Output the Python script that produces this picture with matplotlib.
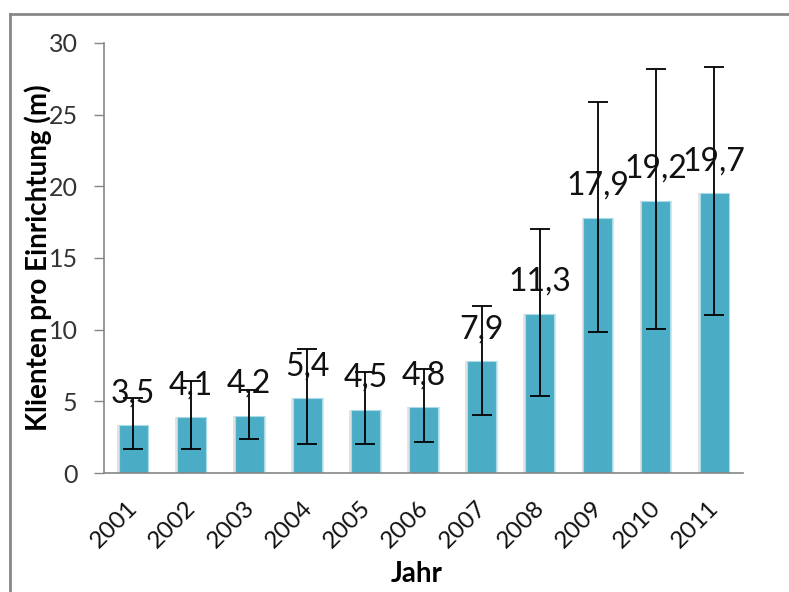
import matplotlib
matplotlib.use("Agg")
import matplotlib.pyplot as plt
import matplotlib.transforms as mtransforms
from matplotlib.lines import Line2D
import numpy as np

plt.rcParams['font.family'] = ['Lato', 'DejaVu Sans']

# Daten
jahre = ["2001", "2002", "2003", "2004", "2005", "2006",
         "2007", "2008", "2009", "2010", "2011"]
werte = [3.35, 3.9, 4.0, 5.2, 4.4, 4.6, 7.8, 11.1, 17.8, 19.0, 19.5]
beschriftung = ["3,5", "4,1", "4,2", "5,4", "4,5", "4,8",
                "7,9", "11,3", "17,9", "19,2", "19,7"]
fehler_unten = [1.65, 1.65, 2.4, 2.0, 2.0, 2.15, 4.05, 5.35, 9.85, 10.05, 11.0]
fehler_oben = [5.2, 6.45, 5.8, 8.65, 7.05, 7.25, 11.65, 17.05, 25.85, 28.15, 28.3]

fig = plt.figure(figsize=(7.89, 5.92), dpi=100)
ax = fig.add_axes([0.1318, 0.201, 0.81, 0.7264])

x = np.arange(len(jahre))
werte = np.array(werte)
err = [werte - np.array(fehler_unten), np.array(fehler_oben) - werte]

# leichter Schatten hinter den Balken
ax.bar(x, werte, width=0.56, color="#e4e4e4", zorder=1)
ax.bar(x, werte, width=0.5, color="#4bacc6", edgecolor="#a9dbe8",
       linewidth=0.8, zorder=2)
ax.errorbar(x, werte, yerr=err, fmt="none", ecolor="black",
            elinewidth=1.3, capsize=7, capthick=1.3, zorder=3)

for xi, w, txt in zip(x, werte, beschriftung):
    ax.annotate(txt, (xi, w), xytext=(0, 16.5), textcoords="offset points",
                ha="center", va="baseline", fontsize=23, color="#111111",
                zorder=4)

ax.set_xlim(-0.5, len(jahre) - 0.5)
ax.set_ylim(0, 30)
ax.set_yticks(range(0, 31, 5))
ax.set_xticks(x)
ax.set_xticklabels(jahre, rotation=45, ha="right", fontsize=17.5,
                   color="#111111")
ax.tick_params(axis="x", length=0, pad=17)
ax.tick_params(axis="y", length=7, width=1, color="#868686",
               labelsize=18, labelcolor="#333333", pad=12)
off = mtransforms.ScaledTranslation(9 / 100, 0, fig.dpi_scale_trans)
for lab in ax.get_xticklabels():
    lab.set_transform(lab.get_transform() + off)

for s in ["top", "right"]:
    ax.spines[s].set_visible(False)
for s in ["left", "bottom"]:
    ax.spines[s].set_color("#868686")
    ax.spines[s].set_linewidth(1.2)

ax.set_ylabel("Klienten pro Einrichtung (m)", fontsize=20, fontweight="bold")
ax.yaxis.set_label_coords(-0.082, 0.5)
ax.set_xlabel("Jahr", fontsize=20, fontweight="bold")
ax.xaxis.set_label_coords(0.49, -0.205)

# Rahmen oben und links
fig.add_artist(Line2D([10 / 789, 1], [1 - 14 / 592, 1 - 14 / 592],
                      color="#888888", linewidth=2))
fig.add_artist(Line2D([10 / 789, 10 / 789], [0, 1 - 14 / 592],
                      color="#888888", linewidth=2))

fig.savefig("out.png", dpi=100)
